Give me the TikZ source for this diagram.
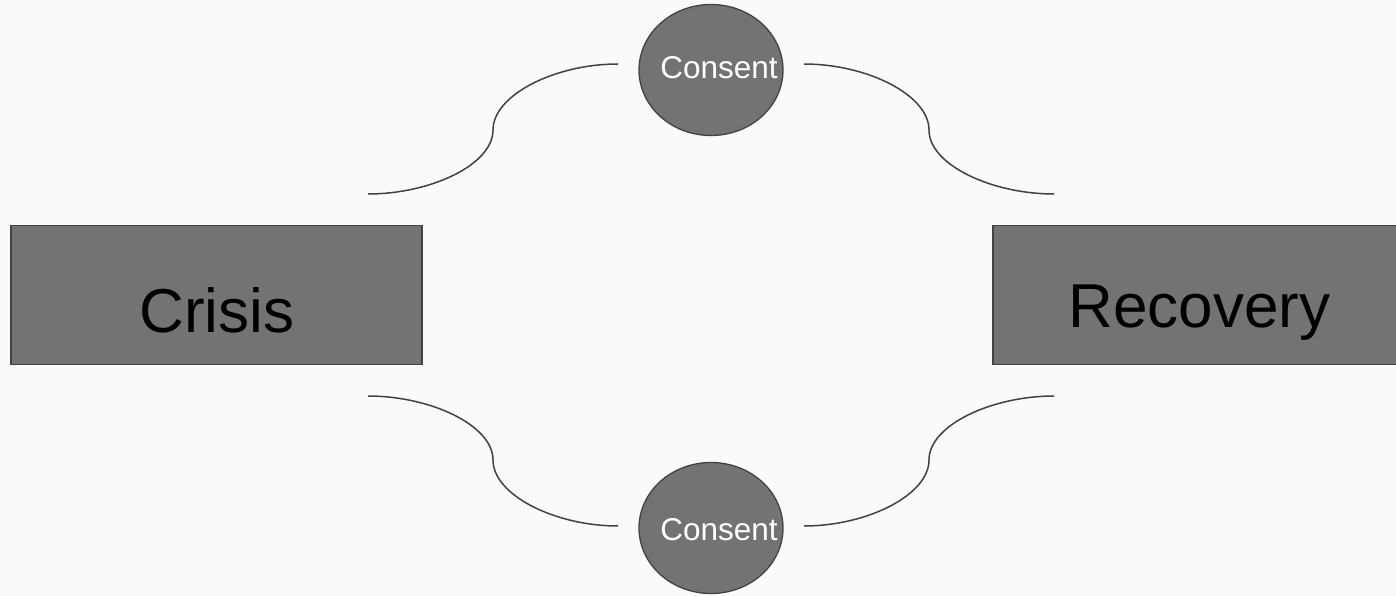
\documentclass[tikz,border=0pt]{standalone}
\usepackage{fontspec}
\setmainfont{Liberation Sans}
\usetikzlibrary{shapes.geometric}
\definecolor{paper}{HTML}{FAFAFA}
\definecolor{shade}{HTML}{737373}
\definecolor{edge}{HTML}{424242}
\tikzset{
  stagebox/.style={draw=edge, fill=shade, line width=1.3pt, rectangle,
    minimum width=411pt, minimum height=139pt, inner sep=0pt},
  stagetext/.style={anchor=base, inner sep=0pt, text=black,
    font=\fontsize{62}{62}\selectfont},
  gate/.style={draw=edge, fill=shade, line width=1.3pt, ellipse,
    minimum width=144pt, minimum height=131pt, inner sep=0pt},
  gatetext/.style={anchor=base, inner sep=0pt, text=white,
    font=\fontsize{31.5}{31.5}\selectfont},
  link/.style={draw=edge, line width=1.5pt}
}
\begin{document}
\begin{tikzpicture}[x=1pt,y=-1pt]
\useasboundingbox (0,0) rectangle (1396,596);
\clip (0,0) rectangle (1396,596);
\fill[paper] (0,0) rectangle (1396,596);

% the two stages
\node[stagebox] (crisis) at (216.5,295) {};
\node[stagetext] (crisislabel) at (217,332) {Crisis};
\node[stagebox] (recovery) at (1198.5,295) {};
\node[stagetext] (recoverylabel) at (1199.5,327) {Recovery};

% the two consent gates
\node[gate] (topgate) at (711,70) {};
\node[gatetext] (topgatelabel) at (719,79) {Consent};
\node[gate] (botgate) at (711,528) {};
\node[gatetext] (botgatelabel) at (719,540) {Consent};

% free ends and turning points of the curved links
\coordinate (tlA) at (368,194);
\coordinate (tlM) at (493,130);
\coordinate (tlB) at (618,64);
\coordinate (trA) at (804,64);
\coordinate (trM) at (929,130);
\coordinate (trB) at (1054,194);
\coordinate (blA) at (368,396);
\coordinate (blM) at (493,460);
\coordinate (blB) at (618,526);
\coordinate (brA) at (804,526);
\coordinate (brM) at (929,460);
\coordinate (brB) at (1054,396);

% upper path
\draw[link] (tlA) .. controls +(62,0) and +(0,35) .. (tlM)
                  .. controls +(0,-35) and +(-63,0) .. (tlB);
\draw[link] (trA) .. controls +(63,0) and +(0,-35) .. (trM)
                  .. controls +(0,35) and +(-62,0) .. (trB);
% lower path
\draw[link] (blA) .. controls +(62,0) and +(0,-35) .. (blM)
                  .. controls +(0,35) and +(-63,0) .. (blB);
\draw[link] (brA) .. controls +(63,0) and +(0,35) .. (brM)
                  .. controls +(0,-35) and +(-62,0) .. (brB);
\end{tikzpicture}
\end{document}
